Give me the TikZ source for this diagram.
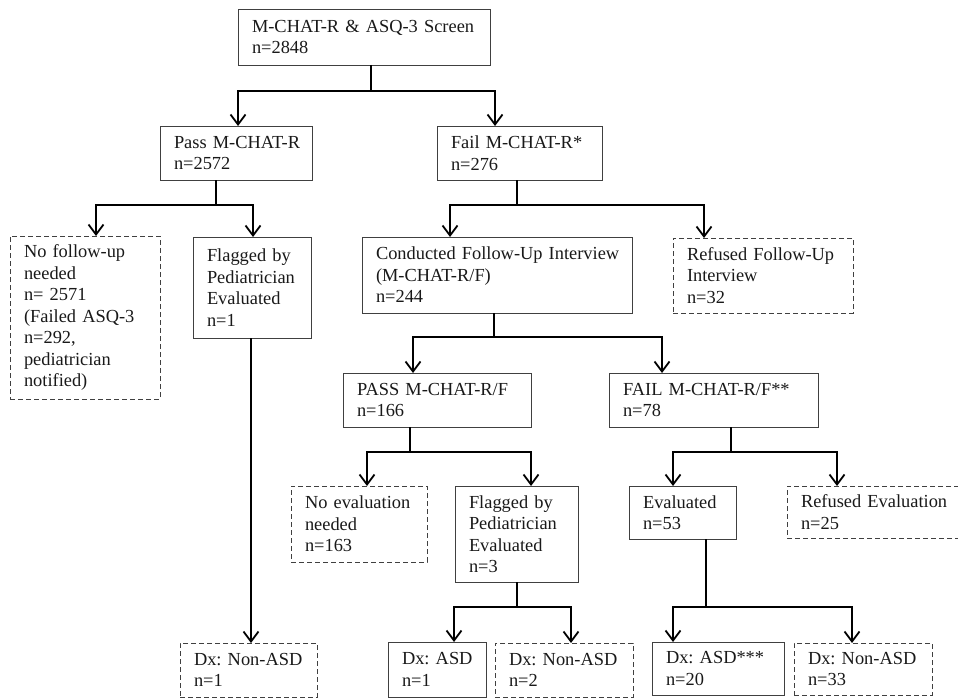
\documentclass[tikz,border=0pt]{standalone}
\usepackage{fontspec}
\setmainfont{Liberation Serif}
\usetikzlibrary{arrows.meta}

\tikzset{
  % solid and dashed boxes, text set flush left
  box/.style={draw=black!75, line width=0.9pt, anchor=north west, align=left,
    inner xsep=14pt, inner ysep=0pt, outer sep=0pt, text=black!90,
    font=\fontsize{18.4}{21.5}\selectfont\frenchspacing},
  dashbox/.style={box, dash pattern=on 5pt off 3pt},
  % connectors
  link/.style={line width=2pt, black},
  flow/.style={link, -{Straight Barb[length=10pt, width=15pt, line width=1.8pt]}}
}

\begin{document}
\begin{tikzpicture}[x=1pt, y=-1pt]
        % fix the size of the page
        \useasboundingbox (0,0) rectangle (958,698);

        % screening
        \node[box, minimum width=252, minimum height=56, text width=224] (screen) at (238,9)
            {\mbox{M-CHAT-R \& ASQ-3 Screen}\\n=2848};

        % first split
        \node[box, minimum width=152, minimum height=54, text width=124] (pass) at (160,126)
            {\mbox{Pass M-CHAT-R}\\n=2572};
        \node[box, minimum width=165, minimum height=54, text width=137] (fail) at (437,126)
            {\mbox{Fail M-CHAT-R*}\\n=276};

        % below pass
        \node[dashbox, minimum width=150, minimum height=163, text width=122] (nofollow) at (10,236)
            {No follow-up\\needed\\n= 2571\\\mbox{(Failed ASQ-3}\\n=292,\\pediatrician\\notified)};
        \node[box, minimum width=118, minimum height=101, text width=90] (flagged) at (193,237)
            {Flagged by\\Pediatrician\\Evaluated\\n=1};

        % below fail
        \node[box, minimum width=270, minimum height=76, text width=242] (interview) at (362,237)
            {\mbox{Conducted Follow-Up Interview}\\(M-CHAT-R/F)\\n=244};
        \node[dashbox, minimum width=180, minimum height=75, text width=152] (refusedfu) at (673,238)
            {\mbox{Refused Follow-Up}\\Interview\\n=32};

        % follow-up interview result
        \node[box, minimum width=188, minimum height=54, text width=160] (passrf) at (343,373)
            {\mbox{PASS M-CHAT-R/F}\\n=166};
        \node[box, minimum width=209, minimum height=54, text width=181] (failrf) at (609,373)
            {\mbox{FAIL M-CHAT-R/F**}\\n=78};

        % evaluation
        \node[dashbox, minimum width=136, minimum height=76, text width=108] (noeval) at (291,486)
            {\mbox{No evaluation}\\needed\\n=163};
        \node[box, minimum width=123, minimum height=96, text width=95] (flagged2) at (455,486)
            {Flagged by\\Pediatrician\\Evaluated\\n=3};
        \node[box, minimum width=107, minimum height=53, text width=79] (evaluated) at (629,486)
            {Evaluated\\n=53};
        \node[dashbox, minimum width=180, minimum height=52, text width=152] (refusedev) at (787,486)
            {\mbox{Refused Evaluation}\\n=25};

        % diagnoses
        \node[dashbox, minimum width=137, minimum height=54, text width=109] (dxnon1) at (180,643)
            {\mbox{Dx: Non-ASD}\\n=1};
        \node[box, minimum width=98, minimum height=55, text width=70] (dxasd1) at (388,642)
            {\mbox{Dx: ASD}\\n=1};
        \node[dashbox, minimum width=138, minimum height=54, text width=110] (dxnon2) at (495,643)
            {\mbox{Dx: Non-ASD}\\n=2};
        \node[box, minimum width=132, minimum height=53, text width=104] (dxasd20) at (652,642)
            {\mbox{Dx: ASD***}\\n=20};
        \node[dashbox, minimum width=138, minimum height=52, text width=110] (dxnon3) at (794,643)
            {\mbox{Dx: Non-ASD}\\n=33};

        % connectors: drop from the parent, then bar and arrows to the children
        \draw[link] ([xshift=7pt]screen.south) -- ++(0,26) coordinate (j1);
        \draw[flow] (j1) -| ([xshift=2pt]pass.north);
        \draw[flow] (j1) -| ([xshift=-24.5pt]fail.north);

        \draw[link] ([xshift=-20pt]pass.south) -- ++(0,25) coordinate (j2);
        \draw[flow] (j2) -| ([xshift=11pt]nofollow.north);
        \draw[flow] (j2) -| ([xshift=1pt]flagged.north);

        \draw[link] ([xshift=-2.5pt]fail.south) -- ++(0,25) coordinate (j3);
        \draw[flow] (j3) -| ([xshift=-47pt]interview.north);
        \draw[flow] (j3) -| ([xshift=-59pt]refusedfu.north);

        % long drop on the left
        \draw[flow] ([xshift=-1pt]flagged.south) -- ([xshift=-1pt]flagged.south |- dxnon1.north);

        \draw[link] ([xshift=-3pt]interview.south) -- ++(0,24) coordinate (j4);
        \draw[flow] (j4) -| ([xshift=-24pt]passrf.north);
        \draw[flow] (j4) -| ([xshift=-51.5pt]failrf.north);

        \draw[link] ([xshift=-27pt]passrf.south) -- ++(0,25) coordinate (j5);
        \draw[flow] (j5) -| ([xshift=8pt]noeval.north);
        \draw[flow] (j5) -| ([xshift=14.5pt]flagged2.north);

        \draw[link] ([xshift=17.5pt]failrf.south) -- ++(0,25) coordinate (j6);
        \draw[flow] (j6) -| ([xshift=-9.5pt]evaluated.north);
        \draw[flow] (j6) -| ([xshift=-40pt]refusedev.north);

        \draw[link] ([xshift=0.5pt]flagged2.south) -- ++(0,25) coordinate (j7);
        \draw[flow] (j7) -| ([xshift=17pt]dxasd1.north);
        \draw[flow] (j7) -| ([xshift=7pt]dxnon2.north);

        \draw[link] ([xshift=23.5pt]evaluated.south) -- ++(0,68) coordinate (j8);
        \draw[flow] (j8) -| ([xshift=-45pt]dxasd20.north);
        \draw[flow] (j8) -| ([xshift=-11pt]dxnon3.north);
\end{tikzpicture}
\end{document}
